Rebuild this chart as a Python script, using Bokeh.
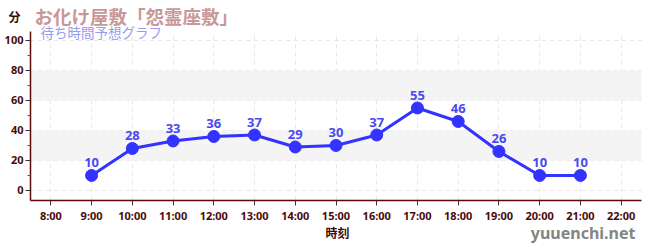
from bokeh.plotting import figure
from bokeh.models import (ColumnDataSource, LabelSet, Label, BoxAnnotation,
                          FixedTicker, Range1d, Grid)
from bokeh.core.properties import value
from bokeh.embed import file_html
from bokeh.resources import INLINE

hours = [9, 10, 11, 12, 13, 14, 15, 16, 17, 18, 19, 20, 21]
waits = [10, 28, 33, 36, 37, 29, 30, 37, 55, 46, 26, 10, 10]
x_ticks = list(range(8, 23))
x_tick_labels = {h: f"{h}:00" for h in x_ticks}
y_ticks = [0, 20, 40, 60, 80, 100]
y_minor_ticks = [10, 30, 50, 70, 90]
bands = [(20, 40), (60, 80)]
title_text = "お化け屋敷「怨霊座敷」"
subtitle_text = "待ち時間予想グラフ"
y_label = "分"
x_label = "時刻"
site = "yuuenchi.net"

JFONT = "'Noto Sans CJK JP', 'Noto Sans', sans-serif"
LFONT = "'Noto Sans', sans-serif"
AX = "#5a0a0a"

# plotting area (data) and its bounds
XB = (7.5, 22.5)
YB = (-6.7, 106)
# frame fills the whole canvas; axes are pinned with fixed_location
W, H = 650, 250
PL, PR, PT, PB = 30, 641, 31, 200  # pixel box of the plotting area
xs = (XB[1] - XB[0]) / (PR - PL)
ys = (YB[1] - YB[0]) / (PB - PT)
x_range = Range1d(XB[0] - PL * xs, XB[1] + (W - PR) * xs)
y_range = Range1d(YB[0] - (H - PB) * ys, YB[1] + PT * ys)

p = figure(width=W, height=H, output_backend="svg", toolbar_location=None,
           x_range=x_range, y_range=y_range, title=None,
           min_border=0, min_border_left=0, min_border_right=0,
           min_border_top=0, min_border_bottom=0)
p.background_fill_color = "white"
p.border_fill_color = "white"
p.outline_line_color = None

for lo, hi in bands:
    p.add_layout(BoxAnnotation(bottom=lo, top=hi, left=XB[0], right=XB[1],
                               fill_color="#f4f4f4", fill_alpha=1,
                               line_color=None, level="underlay"))

p.xaxis.ticker = FixedTicker(ticks=x_ticks)
p.xaxis.major_label_overrides = x_tick_labels
p.yaxis.ticker = FixedTicker(ticks=y_ticks, minor_ticks=y_minor_ticks)
p.xaxis.fixed_location = YB[0]
p.yaxis.fixed_location = XB[0]
p.xaxis.bounds = XB
p.yaxis.bounds = YB
for ax in (p.xaxis, p.yaxis):
    ax.axis_line_color = AX
    ax.axis_line_width = 1.5
    ax.major_tick_line_color = "#333333"
    ax.major_tick_in = 0
    ax.major_tick_out = 5
    ax.major_label_text_font = LFONT
    ax.major_label_text_font_size = "11px"
    ax.major_label_text_font_style = "bold"
    ax.major_label_text_color = "#4a0a0a"
    ax.major_label_standoff = 2
p.xaxis.minor_tick_line_color = None
p.yaxis.minor_tick_line_color = "#dd2222"
p.yaxis.minor_tick_in = 0
p.yaxis.minor_tick_out = 3

p.xgrid.ticker = FixedTicker(ticks=x_ticks)
p.ygrid.ticker = FixedTicker(ticks=y_ticks)
p.xgrid.bounds = XB
p.ygrid.bounds = YB
if "cross_bounds" in Grid.properties():
    p.xgrid.cross_bounds = YB
    p.ygrid.cross_bounds = XB
p.grid.grid_line_color = "#e6e6e6"
p.grid.grid_line_dash = "4 4"
p.grid.grid_line_width = 1

src = ColumnDataSource(dict(x=hours, y=waits, t=[str(v) for v in waits]))
p.line("x", "y", source=src, line_color="#3333ff", line_width=3)
p.scatter("x", "y", source=src, size=12, fill_color="#3333ff", line_color="#3333ff")
p.add_layout(LabelSet(x="x", y="y", text="t", source=src, y_offset=8,
                      text_align="center", text_baseline="bottom",
                      text_font=value(LFONT), text_font_size=value("13px"),
                      text_font_style=value("bold"),
                      text_color="#4a4af0"))


def add_text(x, y, text, font, size, color, align="left", style="bold"):
    # canvas units: measured from the canvas' top-left corner
    p.add_layout(Label(x=x, y=y, x_units="canvas", y_units="canvas",
                       text=text, text_font=font, text_font_size=size,
                       text_font_style=style, text_color=color,
                       text_align=align, text_baseline="middle"))


add_text(14, 16, y_label, JFONT, "12px", "#3a0a0a", "center")
add_text(34, 15, title_text, JFONT, "18.5px", "#c89898")
add_text(40, 31, subtitle_text, JFONT, "13.5px", "#9a9af0", style="normal")
add_text(337, 232, x_label, JFONT, "12px", "#3a0a0a", "center")
add_text(635, 232, site, LFONT, "16px", "#858585", "right")

open("out.html", "w").write(file_html(p, INLINE))
